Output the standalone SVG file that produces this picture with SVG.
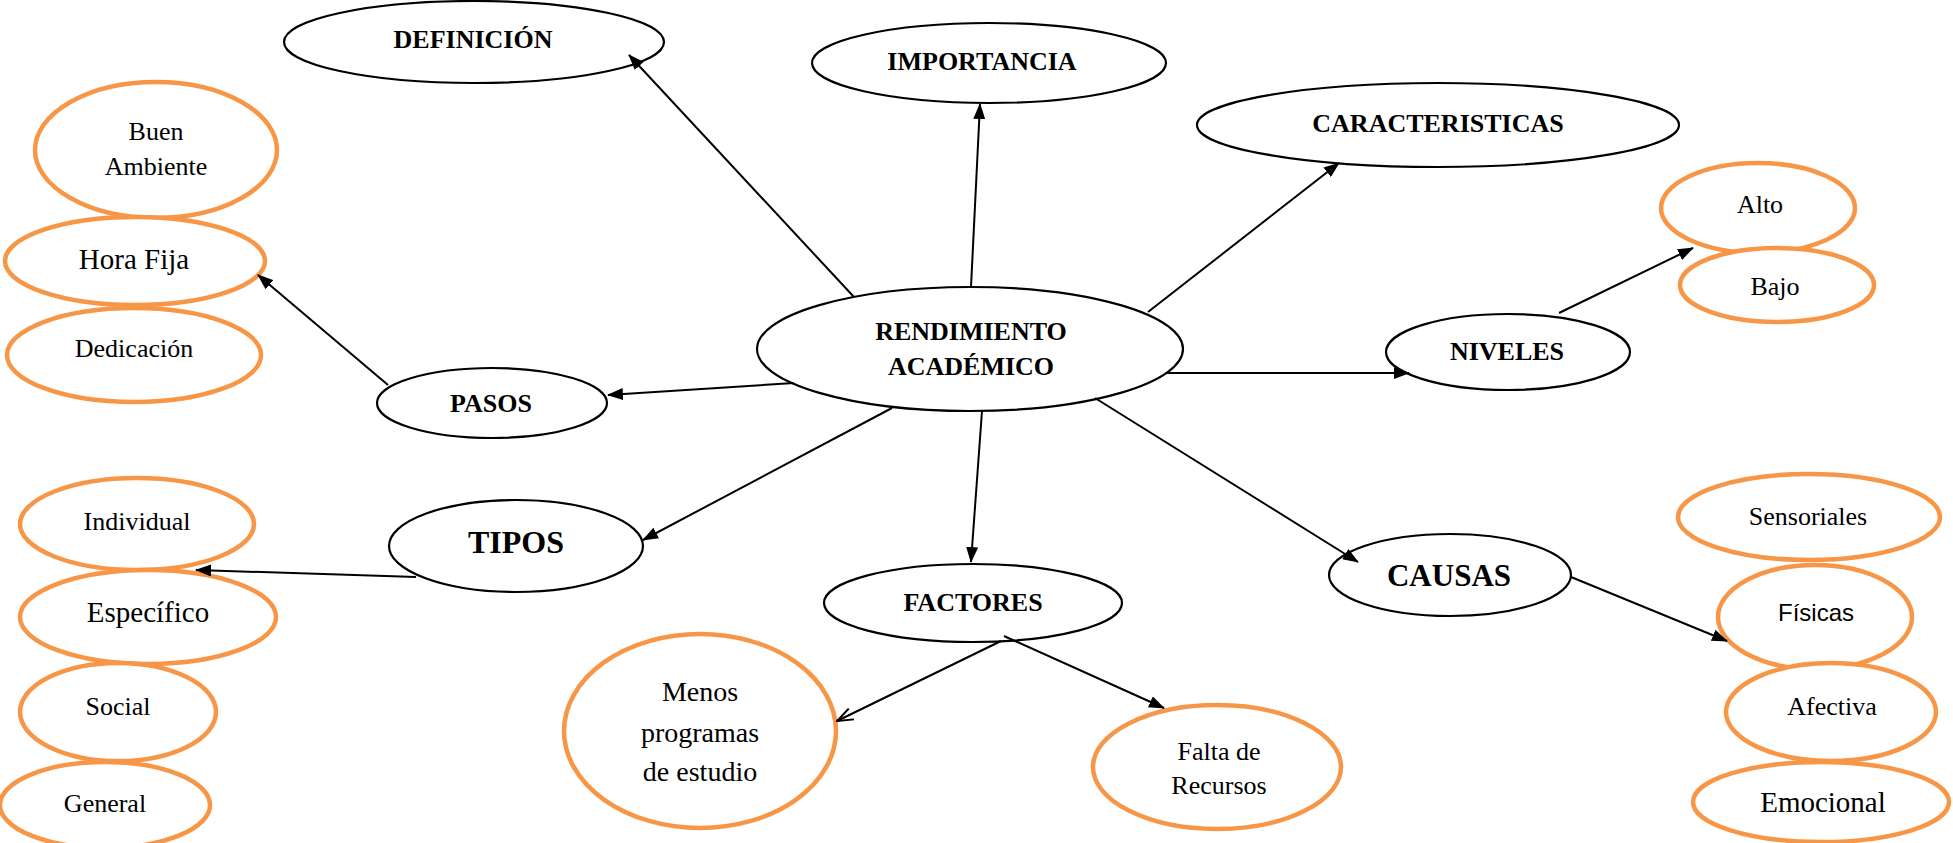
<svg xmlns="http://www.w3.org/2000/svg" width="1953" height="843" viewBox="0 0 1953 843">
<style>
.main{fill:#fff;stroke:#000;stroke-width:2.2}
.sub{fill:#fff;stroke:#F79646;stroke-width:4.5}
text{font-family:"Liberation Serif","Times New Roman",serif;text-anchor:middle;fill:#000}
.b{font-weight:bold;font-size:26px}
.big{font-weight:bold;font-size:32px}
.r{font-size:26px}
.c{stroke:#000;stroke-width:2;fill:none}
</style>
<defs>
<marker id="arr" viewBox="0 0 16 12" refX="15" refY="6" markerWidth="16" markerHeight="12" markerUnits="userSpaceOnUse" orient="auto"><path d="M0,0 L16,6 L0,12 z" fill="#000"/></marker>
<marker id="open" viewBox="0 0 18 14" refX="17" refY="7" markerWidth="18" markerHeight="14" markerUnits="userSpaceOnUse" orient="auto"><path d="M1,1 L17,7 L1,13" fill="none" stroke="#000" stroke-width="2"/></marker>
</defs>
<rect width="1953" height="843" fill="#fff"/>

<g id="definicion"><ellipse class="main" cx="474" cy="42" rx="190" ry="41"/><text class="b" x="473" y="48">DEFINICIÓN</text></g>
<g id="importancia"><ellipse class="main" cx="989" cy="63" rx="177" ry="40"/><text class="b" x="982" y="70">IMPORTANCIA</text></g>
<g id="caracteristicas"><ellipse class="main" cx="1438" cy="125" rx="241" ry="42"/><text class="b" x="1438" y="132">CARACTERISTICAS</text></g>
<g id="rendimiento"><ellipse class="main" cx="970" cy="349" rx="213" ry="62"/><text class="b" x="971" y="340">RENDIMIENTO</text><text class="b" x="971" y="375">ACADÉMICO</text></g>
<g id="niveles"><ellipse class="main" cx="1508" cy="352" rx="122" ry="38"/><text class="b" x="1507" y="360">NIVELES</text></g>
<g id="pasos"><ellipse class="main" cx="492" cy="403" rx="115" ry="35"/><text class="b" x="491" y="412">PASOS</text></g>
<g id="tipos"><ellipse class="main" cx="516" cy="546" rx="127" ry="46"/><text class="big" x="516" y="553">TIPOS</text></g>
<g id="factores"><ellipse class="main" cx="973" cy="603" rx="149" ry="39"/><text class="b" x="973" y="611">FACTORES</text></g>
<g id="causas"><ellipse class="main" cx="1450" cy="575" rx="121" ry="41"/><text class="big" x="1449" y="586" style="font-size:31px">CAUSAS</text></g>

<g id="buen-ambiente"><ellipse class="sub" cx="156" cy="150" rx="121" ry="68"/><text class="r" x="156" y="140">Buen</text><text class="r" x="156" y="175">Ambiente</text></g>
<g id="hora-fija"><ellipse class="sub" cx="135" cy="261" rx="130" ry="44"/><text class="r" x="134" y="269" style="font-size:29px">Hora Fija</text></g>
<g id="dedicacion"><ellipse class="sub" cx="134" cy="355" rx="127" ry="47"/><text class="r" x="134" y="357">Dedicación</text></g>

<g id="individual"><ellipse class="sub" cx="137" cy="524" rx="117" ry="46"/><text class="r" x="137" y="530">Individual</text></g>
<g id="especifico"><ellipse class="sub" cx="148" cy="617" rx="128" ry="47"/><text class="r" x="148" y="622" style="font-size:29px">Específico</text></g>
<g id="social"><ellipse class="sub" cx="118" cy="712" rx="98" ry="49"/><text class="r" x="118" y="715">Social</text></g>
<g id="general"><ellipse class="sub" cx="105" cy="805" rx="105" ry="43"/><text class="r" x="105" y="812">General</text></g>

<g id="menos-programas"><ellipse class="sub" cx="700" cy="731" rx="136" ry="97"/><text class="r" x="700" y="701" style="font-size:28px">Menos</text><text class="r" x="700" y="742" style="font-size:28px">programas</text><text class="r" x="700" y="781" style="font-size:28px">de estudio</text></g>
<g id="falta-recursos"><ellipse class="sub" cx="1217" cy="767" rx="124" ry="62"/><text class="r" x="1219" y="760">Falta de</text><text class="r" x="1219" y="794">Recursos</text></g>

<g id="alto"><ellipse class="sub" cx="1758" cy="208" rx="97" ry="45"/><text class="r" x="1760" y="213">Alto</text></g>
<g id="bajo"><ellipse class="sub" cx="1777" cy="285" rx="97" ry="37"/><text class="r" x="1775" y="295">Bajo</text></g>

<g id="sensoriales"><ellipse class="sub" cx="1809" cy="517" rx="131" ry="43"/><text class="r" x="1808" y="525">Sensoriales</text></g>
<g id="fisicas"><ellipse class="sub" cx="1815" cy="617" rx="97" ry="52"/><text x="1816" y="621" style="font-family:'Liberation Sans',Arial,sans-serif;font-size:24px">Físicas</text></g>
<g id="afectiva"><ellipse class="sub" cx="1831" cy="712" rx="105" ry="49"/><text class="r" x="1832" y="715">Afectiva</text></g>
<g id="emocional"><ellipse class="sub" cx="1821" cy="802" rx="128" ry="40"/><text class="r" x="1823" y="812" style="font-size:29px">Emocional</text></g>

<g id="connectors">
<line class="c" x1="854" y1="297" x2="629" y2="55" marker-end="url(#arr)"/>
<line class="c" x1="971" y1="287" x2="980" y2="104" marker-end="url(#arr)"/>
<line class="c" x1="1148" y1="312" x2="1339" y2="163" marker-end="url(#arr)"/>
<line class="c" x1="1166" y1="373" x2="1409" y2="373" marker-end="url(#arr)"/>
<line class="c" x1="794" y1="383" x2="608" y2="395" marker-end="url(#arr)"/>
<line class="c" x1="892" y1="408" x2="643" y2="540" marker-end="url(#arr)"/>
<line class="c" x1="982" y1="411" x2="971" y2="562" marker-end="url(#arr)"/>
<line class="c" x1="1095" y1="398" x2="1358" y2="562" marker-end="url(#arr)"/>
<line class="c" x1="388" y1="385" x2="258" y2="275" marker-end="url(#arr)"/>
<line class="c" x1="416" y1="577" x2="196" y2="570" marker-end="url(#arr)"/>
<line class="c" x1="1559" y1="313" x2="1693" y2="248" marker-end="url(#arr)"/>
<line class="c" x1="1001" y1="641" x2="837" y2="721" marker-end="url(#open)"/>
<line class="c" x1="1004" y1="636" x2="1164" y2="708" marker-end="url(#arr)"/>
<line class="c" x1="1571" y1="577" x2="1727" y2="641" marker-end="url(#arr)"/>
</g>
</svg>
